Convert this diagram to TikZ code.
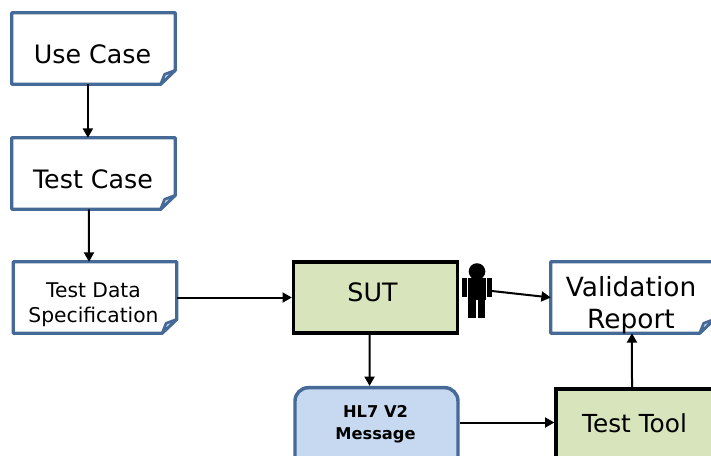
\documentclass[tikz,border=0pt]{standalone}
\usepackage{fontspec}
\setmainfont{DejaVu Sans}
\usetikzlibrary{arrows.meta}
\definecolor{docblue}{HTML}{466A97}
\definecolor{boxgreen}{HTML}{D8E4BC}
\definecolor{msgblue}{HTML}{C6D9F0}
\tikzset{
  x=0.75pt,y=-0.75pt,
  base/.style={inner sep=0pt,align=center,text=black,font=\fontsize{19}{24}\selectfont},
  docbox/.style={base,minimum width=122.25pt,minimum height=53.25pt},
  docline/.style={draw=docblue,line width=2.4pt,fill=white,line join=round},
  foldfill/.style={draw=docblue,line width=2pt,fill=msgblue,line join=round},
  sysbox/.style={base,draw=black,line width=2.5pt,fill=boxgreen,minimum width=123pt,minimum height=53.25pt},
  msgbox/.style={base,draw=docblue,line width=2.6pt,fill=msgblue,rounded corners=10pt,minimum width=122.25pt,minimum height=62pt},
  conn/.style={draw=black,line width=1.5pt,-{Triangle[length=7pt,width=7.5pt]}},
  figure/.style={fill=black,draw=none}
}
\newcommand{\docoutline}[1]{%
  \draw[docline] (#1.north west) -- (#1.north east) -- ([yshift=10.5pt]#1.south east) -- ([xshift=-11pt]#1.south east) -- (#1.south west) -- cycle;
  \draw[foldfill] ([yshift=10.5pt]#1.south east) -- ([xshift=-8pt,yshift=7.5pt]#1.south east) -- ([xshift=-11pt]#1.south east) -- cycle;
}
\begin{document}
\begin{tikzpicture}
\useasboundingbox (0,0) rectangle (711,455);
\clip (0,0) rectangle (711,455);
\fill[white] (0,0) rectangle (711,455);
% documents
\node[docbox] (uc) at (93.5,48.5) {};
\docoutline{uc}
\node[base] at (92.5,54) (uct) {Use Case};
\node[docbox] (tc) at (93.5,173.5) {};
\docoutline{tc}
\node[base] at (93,179) (tct) {Test Case};
\node[docbox] (td) at (95,297.5) {};
\docoutline{td}
\node[base,font=\fontsize{15.2}{18.7}\selectfont] at (93.5,304.5) (tdt) {Test Data\\Specification};
\node[docbox] (vr) at (632.5,297.5) {};
\docoutline{vr}
\node[base,font=\fontsize{19.8}{24}\selectfont] at (631,305) (vrt) {Validation\\Report};
% systems
\node[sysbox] (sut) at (375.5,297.5) {};
\node[base] at (372.5,292) (sutt) {SUT};
\node[sysbox] (tt) at (638,424.5) {};
\node[base,font=\fontsize{18.6}{24}\selectfont] at (634.5,423) (ttt) {Test Tool};
\node[msgbox] (hl) at (376.5,429) {};
\node[base,font=\bfseries\fontsize{12.2}{16.5}\selectfont] at (375.5,424.5) (hlt) {HL7 V2\\Message};
% person
\fill[figure] (477,271.5) circle (8.3);
\fill[figure] (468,278) rectangle (486,300);
\fill[figure] (462,278) rectangle (467,297);
\fill[figure] (487,278) rectangle (492,297);
\fill[figure] (468,300) rectangle (475.5,318);
\fill[figure] (477.5,300) rectangle (485,318);
\coordinate (pr) at (492,291);
% connectors
\draw[conn] ([xshift=-4.2pt]uc.south) -- ([xshift=-4.2pt]tc.north);
\draw[conn] ([xshift=-3.4pt]tc.south) -- ([xshift=-4.5pt]td.north);
\draw[conn] (td.east) -- (sut.west);
\draw[conn] ([xshift=-4.5pt]sut.south) -- ([xshift=-5.2pt]hl.north);
\draw[conn] (hl.east |- tt.west) ++(0,-2) -- ([yshift=1.5pt]tt.west);
\draw[conn] (pr) -- (vr.west);
\draw[conn] ([xshift=-4.5pt]tt.north) -- ([xshift=-0.4pt]vr.south);
\end{tikzpicture}
\end{document}
